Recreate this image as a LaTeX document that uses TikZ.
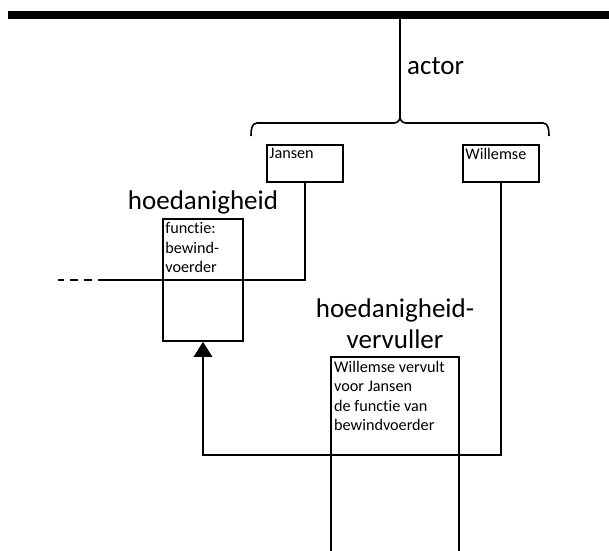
\documentclass[tikz,border=0pt]{standalone}
\usepackage{fontspec}
\setmainfont{Carlito}[RawFeature={-liga}]
\usetikzlibrary{positioning,arrows.meta}
\tikzset{
  box/.style={draw,line width=1.6pt,inner sep=0pt},
  boxtext/.style={anchor=north west,inner xsep=3pt,inner ysep=4pt,align=left,font=\fontsize{16.2}{19.5}\selectfont},
  bigtext/.style={font=\fontsize{27}{31}\selectfont,align=center,inner sep=0pt},
  wire/.style={line width=1.6pt},
  arrowline/.style={line width=2.8pt,-{Triangle[length=15pt,width=18pt]}},
}
\begin{document}
\begin{tikzpicture}[x=1pt,y=-1pt]
  \useasboundingbox (0,0) rectangle (609,550);
  % balk en actor
  \draw[line width=8pt] (8,15) coordinate (barL) -- (609,15) coordinate (barR);
  \coordinate (barmid) at (400,19);
  \coordinate (cusp) at (400,117);
  \draw[wire] (barmid) -- (cusp);
  \node[bigtext,anchor=west] (actor) at (407,66) {actor};
  % accolade
  \draw[wire] (251,136) to[out=90,in=180] (257,123) -- (394,123) to[out=0,in=-90] (cusp);
  \draw[wire] (549,136) to[out=90,in=0] (543,123) -- (406,123) to[out=180,in=-90] (cusp);
  % Jansen en Willemse
  \node[box,minimum width=76,minimum height=37] (jansen) at (305,163.5) {};
  \node[boxtext] (jansentxt) at (jansen.north west) {Jansen};
  \node[box,minimum width=76,minimum height=37] (willemse) at (501,163.5) {};
  \node[boxtext] (willemsetxt) at (willemse.north west) {Willemse};
  % hoedanigheid
  \node[bigtext] (hoedlabel) at (203,202) {hoedanigheid};
  \node[box,minimum width=80,minimum height=122] (hoed) at (203,280) {};
  \node[boxtext] (hoedtxt) at (hoed.north west) {functie:\\bewind-\\voerder};
  \coordinate (dashend) at (106,280);
  \coordinate (dashstart) at (58,280);
  \draw[wire] (jansen.south) |- (dashend);
  \draw[wire,dash pattern=on 8pt off 6pt] (dashend) -- (dashstart);
  % hoedanigheidvervuller
  \node[bigtext] (vervlabel) at (395,324) {hoedanigheid-\\vervuller};
  \coordinate (vervL) at (331,552);
  \coordinate (vervNW) at (331,357);
  \coordinate (vervR) at (459,552);
  \draw[wire] (vervL) |- (459,357) -- (vervR);
  \node[boxtext] (vervtxt) at (vervNW) {Willemse vervult\\voor Jansen\\de functie van\\bewindvoerder};
  % pijl
  \coordinate (corner) at (willemse.south |- 0,455);
  \draw[wire] (willemse.south) -- (corner);
  \draw[arrowline] ([xshift=0.5pt]corner) -| (hoed.south);
\end{tikzpicture}
\end{document}
